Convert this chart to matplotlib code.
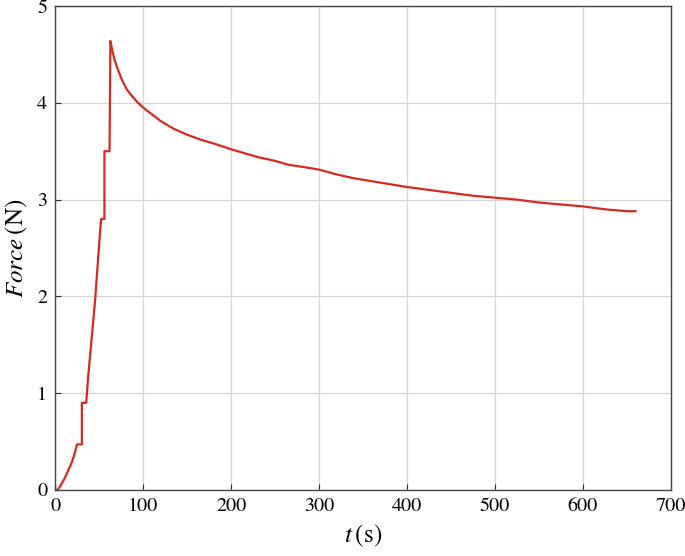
import matplotlib
matplotlib.use("Agg")
import matplotlib.pyplot as plt

# loading phase, flat parts are the holds between load steps
t_rise = [2, 5, 8, 11, 14, 17, 20, 22.5, 24.5, 30, 30, 35, 37, 39, 41, 43, 45, 47, 49, 51, 52,
          55.7, 55.7, 61.5, 62.5]
f_rise = [0.0, 0.03, 0.08, 0.13, 0.19, 0.25, 0.32, 0.40, 0.47, 0.47, 0.90, 0.90, 1.15, 1.35,
          1.55, 1.75, 1.95, 2.2, 2.45, 2.7, 2.8, 2.8, 3.5, 3.5, 4.64]

# relaxation phase
t_decay = [64, 67, 70, 75, 81, 88, 94, 100, 110, 120, 135, 150, 165, 180, 200, 215, 230,
           250, 265, 280, 300, 320, 340, 360, 380, 400, 425, 450, 475, 500, 525, 550, 575,
           600, 625, 650, 660]
f_decay = [4.57, 4.45, 4.37, 4.25, 4.14, 4.06, 4.0, 3.95, 3.88, 3.81, 3.73, 3.67, 3.62,
           3.58, 3.52, 3.48, 3.44, 3.40, 3.36, 3.34, 3.31, 3.26, 3.22, 3.19, 3.16, 3.13, 3.10,
           3.07, 3.04, 3.02, 3.00, 2.97, 2.95, 2.93, 2.90, 2.88, 2.88]

x_ticks = [0, 100, 200, 300, 400, 500, 600, 700]
y_ticks = [0, 1, 2, 3, 4, 5]

plt.rcParams['font.family'] = ['STIXGeneral', 'DejaVu Serif']
plt.rcParams['mathtext.fontset'] = 'stix'

fig = plt.figure(figsize=(6.85, 5.56), dpi=100)
ax = fig.add_axes([0.081, 0.119, 0.898, 0.87])

t_all = t_rise + t_decay
f_all = f_rise + f_decay
ax.plot(t_all, f_all, color='#d42a22', linewidth=1.6)

ax.set_xlim(0, 700)
ax.set_ylim(0, 5)
ax.set_xticks(x_ticks)
ax.set_yticks(y_ticks)
ax.grid(True, color='#d6d6d6', linewidth=0.9)
ax.set_axisbelow(True)
ax.tick_params(direction='in', length=4, width=0.8, labelsize=14.5, color='#333333', pad=6)
for s in ax.spines.values():
    s.set_color('#444444')
    s.set_linewidth(1.0)

ax.set_xlabel(r'$t\:(\mathrm{s})$', fontsize=18, labelpad=5)
ax.set_ylabel(r'$Force\:(\mathrm{N})$', fontsize=18, labelpad=5)

fig.savefig('out.png', dpi=100)
